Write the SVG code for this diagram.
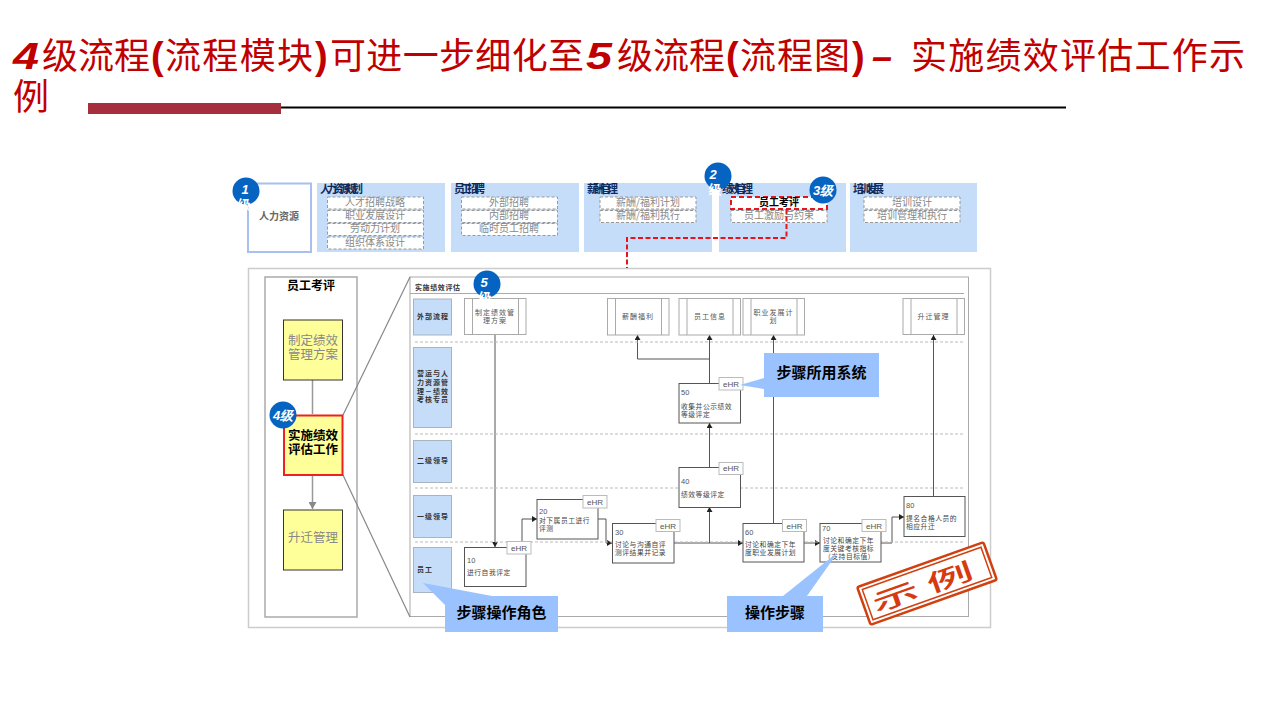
<svg xmlns="http://www.w3.org/2000/svg" width="1280" height="720" viewBox="0 0 1280 720">
<style>
text{font-family:"Noto Sans CJK SC","Liberation Sans",sans-serif}
.t{font-size:36px;fill:#c00000}
.n{font-family:"Liberation Sans",sans-serif;font-size:36px;font-weight:bold;font-style:italic;fill:#c00000}
.p{font-size:38px;fill:#c00000;font-family:"Liberation Sans",sans-serif;font-weight:bold}
.panel{fill:#c5ddf8}
.ph{font-size:11px;font-weight:bold;fill:#0f2a5c}
.d{fill:#fff;stroke:#999;stroke-width:1;stroke-dasharray:3 2}
.dt{font-size:10px;fill:#888;text-anchor:middle}
.bt{fill:#fff;font-family:"Liberation Sans",sans-serif;font-weight:bold;font-style:italic;font-size:13px;text-anchor:middle}
.bc{fill:#fff;font-size:13px;text-anchor:middle;font-weight:bold}
.y{fill:#ffff99;stroke:#333;stroke-width:1}
.yt{font-size:12.500px;fill:#888;text-anchor:middle}
.lane{fill:#c5ddf8;stroke:#a8b4c0;stroke-width:1}
.lt{font-size:7px;font-weight:bold;fill:#333;text-anchor:middle;letter-spacing:1px}
.dash{stroke:#bbb;stroke-width:1;stroke-dasharray:3 2;fill:none}
.ext{fill:#fff;stroke:#aaa;stroke-width:1}
.et{font-size:7px;fill:#555;text-anchor:middle;letter-spacing:1px}
.box{fill:#fff;stroke:#555;stroke-width:1}
.num{font-family:"Liberation Sans",sans-serif;font-size:7.500px;fill:#555}
.pt{font-size:6.800px;fill:#444;letter-spacing:.5px}
.tag{fill:#fff;stroke:#bbb;stroke-width:1}
.tt{font-family:"Liberation Sans",sans-serif;font-size:8px;fill:#555;text-anchor:middle}
.c{fill:none;stroke:#555;stroke-width:1;marker-end:url(#a)}
.co{fill:#99c2ff}
.cot{font-size:15px;font-weight:bold;fill:#000;text-anchor:middle}
</style>
<defs>
<marker id="a" markerUnits="userSpaceOnUse" markerWidth="6" markerHeight="6" refX="5" refY="3" orient="auto"><path d="M0 0L5 3L0 6Z" fill="#222"/></marker>
<marker id="g" markerUnits="userSpaceOnUse" markerWidth="8" markerHeight="8" refX="7" refY="4" orient="auto"><path d="M0 0L7 4L0 8Z" fill="#888"/></marker>
</defs>
<rect width="1280" height="720" fill="#fff"/>
<g id="title">
<text class="n" x="13" y="69" textLength="26" lengthAdjust="spacingAndGlyphs">4</text>
<text class="t" x="42" y="69" textLength="108" lengthAdjust="spacing">级流程</text>
<text class="p" x="151" y="69">(</text>
<text class="t" x="165" y="69" textLength="148" lengthAdjust="spacing">流程模块</text>
<text class="p" x="315" y="69">)</text>
<text class="t" x="330" y="69" textLength="254" lengthAdjust="spacing">可进一步细化至</text>
<text class="n" x="586" y="69" textLength="26" lengthAdjust="spacingAndGlyphs">5</text>
<text class="t" x="617" y="69" textLength="108" lengthAdjust="spacing">级流程</text>
<text class="p" x="726" y="69">(</text>
<text class="t" x="740" y="69" textLength="110" lengthAdjust="spacing">流程图</text>
<text class="p" x="852" y="69">)</text>
<text class="n" x="872" y="69" font-style="normal">–</text>
<text class="t" x="911" y="69" textLength="334" lengthAdjust="spacing">实施绩效评估工作示</text>
<text class="t" x="13" y="110">例</text>
<line x1="281" y1="107.500" x2="1066" y2="107.500" stroke="#000" stroke-width="2"/>
<rect x="88" y="103" width="193" height="11" fill="#a52f3d"/>
</g>
<g id="level1"><rect x="248" y="183.500" width="63" height="68.500" fill="#fff" stroke="#a8c0f0" stroke-width="2"/><text x="279" y="220" font-size="10" font-weight="bold" fill="#666" text-anchor="middle">人力资源</text></g>
<g id="group1"><rect class="panel" x="317" y="183" width="128" height="69"/><text class="ph" x="320" y="193" textLength="43" lengthAdjust="spacing">人力资源规划</text>
<rect class="d" x="327.500" y="197" width="96" height="12"/><text class="dt" x="375" y="205.500">人才招聘战略</text>
<rect class="d" x="327.500" y="210.500" width="96" height="12"/><text class="dt" x="375" y="218.500">职业发展设计</text>
<rect class="d" x="327.500" y="223.500" width="96" height="12"/><text class="dt" x="375" y="231.500">劳动力计划</text>
<rect class="d" x="327.500" y="237" width="96" height="12"/><text class="dt" x="375" y="245.500">组织体系设计</text></g>
<g id="group2"><rect class="panel" x="451" y="183" width="128" height="69"/><text class="ph" x="454" y="193" textLength="31" lengthAdjust="spacing">员工招聘</text>
<rect class="d" x="461.500" y="197" width="96" height="12"/><text class="dt" x="509" y="205.500">外部招聘</text>
<rect class="d" x="461.500" y="210.500" width="96" height="12"/><text class="dt" x="509" y="218.500">内部招聘</text>
<rect class="d" x="461.500" y="223.500" width="96" height="12"/><text class="dt" x="509" y="231.500">临时员工招聘</text></g>
<g id="group3"><rect class="panel" x="584" y="183" width="128" height="69"/><text class="ph" x="587" y="193" textLength="31" lengthAdjust="spacing">薪酬管理</text>
<rect class="d" x="600" y="197" width="96" height="12"/><text class="dt" x="648" y="205.500">薪酬/福利计划</text>
<rect class="d" x="600" y="210.500" width="96" height="12"/><text class="dt" x="648" y="218.500">薪酬/福利执行</text></g>
<g id="group4"><rect class="panel" x="719" y="183" width="127" height="69"/><text class="ph" x="722" y="193" textLength="31" lengthAdjust="spacing">绩效管理</text>
<rect class="d" x="731" y="210.500" width="96" height="12"/><text class="dt" x="779" y="218.500">员工激励与约束</text>
<rect x="731" y="197" width="96" height="12" fill="#fff" stroke="#e8141c" stroke-width="2" stroke-dasharray="5 3"/><text x="779" y="205.500" font-size="10" font-weight="bold" text-anchor="middle" fill="#000">员工考评</text></g>
<g id="group5"><rect class="panel" x="850" y="183" width="127" height="69"/><text class="ph" x="853" y="193" textLength="31" lengthAdjust="spacing">培训发展</text>
<rect class="d" x="864" y="197" width="96" height="12"/><text class="dt" x="912" y="205.500">培训设计</text>
<rect class="d" x="864" y="210.500" width="96" height="12"/><text class="dt" x="912" y="218.500">培训管理和执行</text></g>
<g id="frame" fill="none"><rect x="248.500" y="268.500" width="742" height="359" fill="#fff" stroke="#ccc" stroke-width="1.500"/><rect x="265" y="277" width="92" height="340" stroke="#aaa" stroke-width="1.500"/><rect x="410" y="277" width="558.500" height="339.500" stroke="#aaa" stroke-width="1"/><line x1="410" y1="293.500" x2="964" y2="293.500" stroke="#aaa"/><path d="M343 415L410 277M343 475L410 617" stroke="#888" stroke-width="1.200"/>
<text x="311" y="290" font-size="12" font-weight="bold" fill="#000" text-anchor="middle">员工考评</text><text x="415" y="290" font-size="7" font-weight="bold" fill="#333" letter-spacing=".6">实施绩效评估</text></g>
<g id="connectors">
<path d="M786.500 209V238H627V268" fill="none" stroke="#e8141c" stroke-width="2" stroke-dasharray="5 2.500"/>
<path d="M312.500 380V414M312.500 475V509" stroke="#999" stroke-width="1.500" fill="none" marker-end="url(#g)"/>
<path class="c" d="M495 334V547"/><path class="c" d="M522 547V519H537"/><path class="c" d="M598 519H606V543H612"/><path class="c" d="M674 543H743"/><path class="c" d="M709.500 543V507"/><path class="c" d="M709.500 467V423"/><path class="c" d="M709.500 383V335"/><path class="c" d="M709.500 359H637.500V335"/><path class="c" d="M804 543H820"/><path class="c" d="M773.500 523V335"/><path class="c" d="M881 543H892V517H904"/><path class="c" d="M933.500 496V335"/>
<path class="dash" d="M415 342H965M415 434H965M415 488H965M415 542H965"/>
</g>
<g id="yellow1"><rect class="y" x="283.500" y="320" width="59" height="60"/><text class="yt" x="313" y="345">制定绩效</text><text class="yt" x="313" y="359">管理方案</text></g>
<g id="yellow2"><rect x="284" y="415.500" width="58.500" height="59.500" fill="#ffff99" stroke="#f02020" stroke-width="2"/><text x="313" y="440" font-size="12.500" font-weight="bold" text-anchor="middle">实施绩效</text><text x="313" y="454" font-size="12.500" font-weight="bold" text-anchor="middle">评估工作</text></g>
<g id="yellow3"><rect class="y" x="283.500" y="510" width="59" height="60"/><text class="yt" x="313" y="542">升迁管理</text></g>
<g id="lanes">
<rect class="lane" x="413.500" y="299" width="38" height="36"/><text class="lt" x="433" y="319">外部流程</text>
<rect class="lane" x="413.500" y="347.500" width="38" height="80"/><text class="lt" x="433" y="376">营运与人</text><text class="lt" x="433" y="385">力资源管</text><text class="lt" x="433" y="394">理－绩效</text><text class="lt" x="433" y="402">考核专员</text>
<rect class="lane" x="413.500" y="440.500" width="38" height="42"/><text class="lt" x="433" y="463">二级领导</text>
<rect class="lane" x="413.500" y="495.500" width="38" height="42"/><text class="lt" x="433" y="519">一级领导</text>
<rect class="lane" x="413.500" y="547.500" width="38" height="45"/><text class="lt" x="425" y="572">员工</text>
</g>
<g id="ext1"><rect class="ext" x="464.500" y="298.500" width="61.500" height="36"/><path class="ext" d="M472.500 298.500V334.500M518.500 298.500V334.500"/><text class="et" x="495" y="315">制定绩效管</text><text class="et" x="495" y="323">理方案</text></g>
<g id="ext2"><rect class="ext" x="607.500" y="298.500" width="61.500" height="36.500"/><path class="ext" d="M615.500 298.500V335M661.500 298.500V335"/><text class="et" x="638" y="319">薪酬福利</text></g>
<g id="ext3"><rect class="ext" x="679" y="298.500" width="61.500" height="36.500"/><path class="ext" d="M687 298.500V335M733 298.500V335"/><text class="et" x="710" y="319">员工信息</text></g>
<g id="ext4"><rect class="ext" x="743" y="298.500" width="61.500" height="36.500"/><path class="ext" d="M751 298.500V335M797 298.500V335"/><text class="et" x="773.500" y="315">职业发展计</text><text class="et" x="773.500" y="323">划</text></g>
<g id="ext5"><rect class="ext" x="903" y="298.500" width="61.500" height="36"/><path class="ext" d="M911 298.500V334.500M957 298.500V334.500"/><text class="et" x="933.500" y="319">升迁管理</text></g>
<g id="s10"><rect class="box" x="464.500" y="547.500" width="61.500" height="39"/><text class="num" x="467" y="563">10</text><text class="pt" x="467" y="575">进行自我评定</text><rect class="tag" x="507" y="541.500" width="24" height="12.500"/><text class="tt" x="519" y="551">eHR</text></g>
<g id="s20"><rect class="box" x="537" y="499.500" width="61" height="39.500"/><text class="num" x="539" y="514">20</text><text class="pt" x="539" y="522.500">对下属员工进行</text><text class="pt" x="539" y="530.500">评测</text><rect class="tag" x="583" y="495.500" width="24" height="12.500"/><text class="tt" x="595" y="505">eHR</text></g>
<g id="s30"><rect class="box" x="612.500" y="523.500" width="61.500" height="39.500"/><text class="num" x="615" y="535">30</text><text class="pt" x="615" y="547">讨论与沟通自评</text><text class="pt" x="615" y="555">测评结果并记录</text><rect class="tag" x="656" y="519.500" width="24" height="12"/><text class="tt" x="668" y="529">eHR</text></g>
<g id="s40"><rect class="box" x="679" y="467.500" width="61.500" height="40"/><text class="num" x="681" y="484">40</text><text class="pt" x="681" y="497">绩效等级评定</text><rect class="tag" x="719" y="462.500" width="24" height="12"/><text class="tt" x="731" y="471">eHR</text></g>
<g id="s50"><rect class="box" x="679" y="383.500" width="61.500" height="39.500"/><text class="num" x="681" y="395">50</text><text class="pt" x="681" y="409">收集并公示绩效</text><text class="pt" x="681" y="417">等级评定</text><rect class="tag" x="719" y="377.500" width="24" height="12.500"/><text class="tt" x="731" y="387">eHR</text></g>
<g id="s60"><rect class="box" x="743" y="523.500" width="61" height="38.500"/><text class="num" x="745" y="535">60</text><text class="pt" x="745" y="547">讨论和确定下年</text><text class="pt" x="745" y="555">度职业发展计划</text><rect class="tag" x="782.500" y="519.500" width="24" height="12"/><text class="tt" x="794.500" y="529">eHR</text></g>
<g id="s70"><rect class="box" x="820" y="523.500" width="61" height="38.500"/><text class="num" x="822" y="531">70</text><text class="pt" x="823" y="543">讨论和确定下年</text><text class="pt" x="823" y="551">度关键考核指标</text><text class="pt" x="824" y="559">（支持目标值）</text><rect class="tag" x="862" y="519.500" width="24" height="12"/><text class="tt" x="874" y="529">eHR</text></g>
<g id="s80"><rect class="box" x="904" y="496.500" width="61" height="40"/><text class="num" x="906" y="508">80</text><text class="pt" x="906" y="521">提名合格人员的</text><text class="pt" x="906" y="529">相应升迁</text></g>
<g id="callouts">
<path class="co" d="M423 583L492 596H445V605Z"/><rect class="co" x="445" y="596" width="113" height="36"/><text class="cot" x="501.500" y="618">步骤操作角色</text>
<path class="co" d="M740 385L764 378V389Z"/><rect class="co" x="764" y="353" width="115" height="44"/><text class="cot" x="821.500" y="378">步骤所用系统</text>
<path class="co" d="M838 552L783 596H807Z"/><rect class="co" x="727" y="596" width="96" height="36"/><text class="cot" x="775" y="618">操作步骤</text>
</g>
<g id="stamp" transform="rotate(-19.600 927 583.500)"><rect x="860" y="563.500" width="134" height="40" rx="2" fill="#fff" stroke="#d04010" stroke-width="2.500"/><rect x="864" y="567.500" width="126" height="32" fill="none" stroke="#d04010" stroke-width="1.500"/><text transform="translate(927 594) scale(1.700 .85)" font-size="28" font-weight="500" fill="#d83a10" text-anchor="middle" letter-spacing="6">示例</text></g>
<g id="badge1"><circle cx="246" cy="191" r="13.500" fill="#0563c1"/><text class="bt" x="245" y="194">1</text><text class="bc" x="244" y="209">级</text></g>
<g id="badge2"><circle cx="718" cy="176" r="13.500" fill="#0563c1"/><text class="bt" x="713" y="179">2</text><text class="bc" x="715" y="194">级</text></g>
<g id="badge3"><circle cx="823" cy="190" r="13.500" fill="#0563c1"/><text class="bt" x="823" y="194.500">3级</text></g>
<g id="badge4"><circle cx="283" cy="415" r="13.500" fill="#0563c1"/><text class="bt" x="283" y="419.500">4级</text></g>
<g id="badge5"><circle cx="487" cy="284" r="13.500" fill="#0563c1"/><text class="bt" x="484" y="287">5</text><text class="bc" x="485" y="302">级</text></g>
</svg>
